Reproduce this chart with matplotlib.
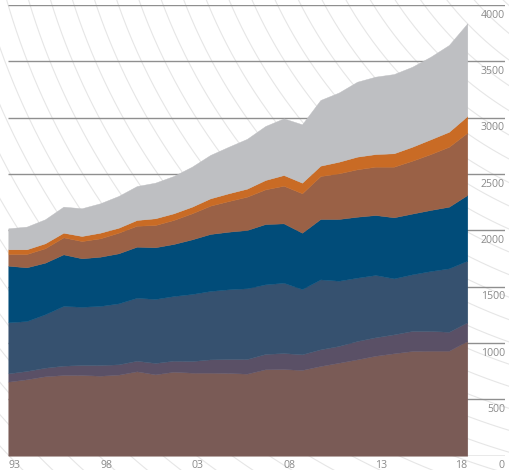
import matplotlib

matplotlib.use("Agg")
import matplotlib.pyplot as plt
import numpy as np

# values, one array per stacked band (bottom -> top)
years = list(range(1993, 2019))
band1 = [657, 678, 705, 716, 716, 710, 719, 749, 722, 745, 737, 737, 734,
         728, 767, 769, 761, 796, 825, 855, 887, 909, 929, 932, 932, 1018]
band2 = [74, 74, 76, 83, 89, 95, 92, 94, 101, 98, 103, 118, 124,
         130, 136, 142, 139, 148, 149, 163, 164, 168, 178, 175, 168, 166]
band3 = [453, 443, 474, 530, 517, 524, 541, 559, 568, 574, 595, 607, 619,
         628, 618, 624, 579, 621, 579, 562, 553, 497, 503, 532, 563, 547]
band4 = [502, 477, 458, 458, 430, 437, 444, 453, 459, 462, 485, 506, 511,
         517, 535, 527, 500, 536, 548, 541, 532, 542, 539, 542, 547, 583]
band5 = [104, 118, 128, 151, 153, 163, 183, 186, 197, 213, 231, 251, 272,
         296, 308, 334, 350, 381, 405, 421, 429, 449, 469, 496, 532, 553]
band6 = [42, 42, 44, 41, 45, 50, 44, 51, 60, 59, 59, 65, 69,
         71, 83, 95, 94, 92, 103, 112, 112, 119, 124, 131, 133, 148]
band7 = [186, 201, 213, 231, 246, 261, 282, 301, 316, 331, 355, 385, 413,
         442, 479, 503, 518, 583, 614, 665, 687, 703, 710, 733, 770, 822]

band_colors = ["#7a5b56", "#5a5066", "#36516f", "#014c79",
               "#9a6146", "#c96b25", "#bebfc2"]

y_ticks = [0, 500, 1000, 1500, 2000, 2500, 3000, 3500, 4000]
x_tick_years = [1993, 1998, 2003, 2008, 2013, 2018]
x_tick_labels = ["93", "98", "03", "08", "13", "18"]

W, H = 510, 470
TXT = "#8a8a8a"
plt.rcParams["font.family"] = ["Open Sans", "DejaVu Sans"]

fig = plt.figure(figsize=(W / 100, H / 100), dpi=100)

# decorative background: concentric arcs centred off the top-right corner
bg = fig.add_axes([0, 0, 1, 1])
bg.set_xlim(0, W)
bg.set_ylim(H, 0)
bg.axis("off")
t = np.linspace(0, 2 * np.pi, 1500)
cx, cy = 700, -200
for k in range(-22, 14):
    r = 721.6 + 21 * k
    bg.plot(cx + r * np.cos(t), cy + r * np.sin(t), color="#e6e6e6", lw=0.8)

# main plot; pixel geometry: 1993 at x=8.3, 18.36 px/year, 0 at y=455.7, 4000 at y=5
x0, x1 = 8.3, 505
ax = fig.add_axes([x0 / W, (H - 455.7) / H, (x1 - x0) / W, (455.7 - 5) / H])
ax.set_facecolor("none")
ax.set_xlim(1993, 1993 + (x1 - x0) / 18.36)
ax.set_ylim(0, 4000)
for s in ax.spines.values():
    s.set_visible(False)
ax.set_xticks([])
ax.set_yticks([])

ax.hlines(y_ticks, *ax.get_xlim(), color="#8f8f8f", lw=1.0, zorder=1)

bands = [band1, band2, band3, band4, band5, band6, band7]
polys = ax.stackplot(years, bands, colors=band_colors, zorder=2)
for p, c in zip(polys, band_colors):
    p.set_edgecolor(c)
    p.set_linewidth(0.3)

# y labels sit right-aligned just under each gridline
for v in y_ticks:
    ax.annotate(str(v), xy=(1.0, v), xycoords=("axes fraction", "data"),
                xytext=(0, -7.2), textcoords="offset points",
                ha="right", va="center", fontsize=7.6, color=TXT)

for yr, lbl in zip(x_tick_years, x_tick_labels):
    ax.annotate(lbl, xy=(yr, 0), xytext=(0, -7.2), textcoords="offset points",
                ha="right" if yr == 2018 else "left", va="center",
                fontsize=7.6, color=TXT)

fig.savefig("out.png", dpi=100)
